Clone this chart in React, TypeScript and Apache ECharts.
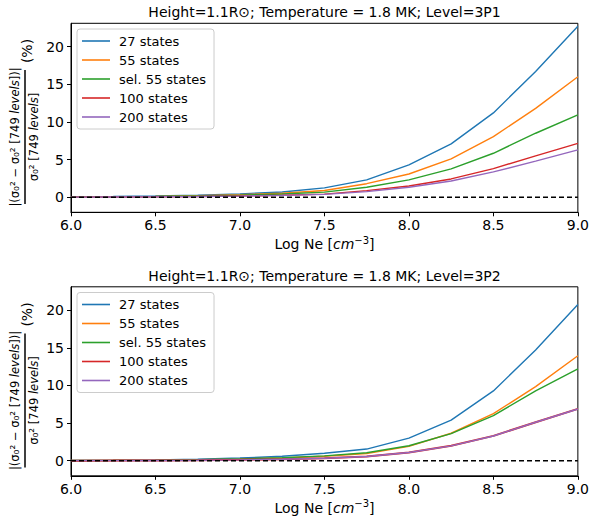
import React, { useEffect, useRef } from "react";
import * as echarts from "echarts";

const logNe = [6.0, 6.25, 6.5, 6.75, 7.0, 7.25, 7.5, 7.75, 8.0, 8.25, 8.5, 8.75, 9.0];
const seriesNames = ["27 states", "55 states", "sel. 55 states", "100 states", "200 states"];
const colors = ["#1f77b4", "#ff7f0e", "#2ca02c", "#d62728", "#9467bd"];

const p1_27 = [0.06, 0.1, 0.17, 0.28, 0.45, 0.7, 1.25, 2.3, 4.29, 7.08, 11.2, 16.7, 22.7];
const p1_55 = [0.04, 0.07, 0.12, 0.2, 0.33, 0.53, 0.9, 1.8, 3.09, 5.09, 8.05, 11.8, 16.0];
const p1_sel55 = [0.03, 0.06, 0.1, 0.17, 0.28, 0.44, 0.68, 1.33, 2.3, 3.76, 5.84, 8.5, 10.95];
const p1_100 = [0.02, 0.03, 0.06, 0.1, 0.17, 0.27, 0.42, 0.88, 1.5, 2.43, 3.8, 5.5, 7.15];
const p1_200 = [0.02, 0.03, 0.05, 0.09, 0.15, 0.25, 0.38, 0.75, 1.33, 2.16, 3.36, 4.8, 6.3];

const p2_27 = [0.04, 0.07, 0.12, 0.21, 0.36, 0.6, 1.0, 1.55, 3.0, 5.39, 9.27, 14.7, 20.75];
const p2_55 = [0.02, 0.04, 0.08, 0.13, 0.22, 0.37, 0.6, 0.97, 1.9, 3.65, 6.25, 9.85, 13.95];
const p2_sel55 = [0.03, 0.05, 0.08, 0.14, 0.24, 0.4, 0.65, 1.06, 1.99, 3.6, 6.0, 9.27, 12.19];
const p2_100 = [0.01, 0.02, 0.04, 0.07, 0.12, 0.2, 0.33, 0.57, 1.1, 1.99, 3.3, 5.12, 6.89];
const p2_200 = [0.01, 0.02, 0.04, 0.07, 0.12, 0.2, 0.33, 0.56, 1.09, 1.98, 3.29, 5.11, 6.87];

const yTicks = [0, 5, 10, 15, 20];
const titles = [
  "Height=1.1R\u2299; Temperature = 1.8 MK; Level=3P1",
  "Height=1.1R\u2299; Temperature = 1.8 MK; Level=3P2",
];

const FONT = "DejaVu Sans";

export default function App() {
  const ref = useRef<HTMLDivElement>(null);
  useEffect(() => {
    if (!ref.current) return;
    const chart = echarts.init(ref.current, null, { renderer: "svg" });
    const panels = [
      [p1_27, p1_55, p1_sel55, p1_100, p1_200],
      [p2_27, p2_55, p2_sel55, p2_100, p2_200],
    ];
    const offsets = [0, 263.5];
    const grids: any[] = [];
    const xAxes: any[] = [];
    const yAxes: any[] = [];
    const series: any[] = [];
    const legends: any[] = [];
    const graphics: any[] = [];

    panels.forEach((panel, gi) => {
      const off = offsets[gi];
      grids.push({
        left: 71,
        top: 23.3 + off,
        width: 507,
        height: 189,
        show: true,
        borderColor: "#000",
        borderWidth: 1,
        backgroundColor: "transparent",
      });
      xAxes.push({
        type: "value",
        gridIndex: gi,
        min: 6,
        max: 9,
        interval: 0.5,
        axisLine: { show: true, onZero: false, lineStyle: { color: "#000", width: 1 } },
        axisTick: { show: true, length: 4, lineStyle: { color: "#000" } },
        axisLabel: {
          show: true,
          fontFamily: FONT,
          fontSize: 14,
          color: "#000",
          margin: 6,
          formatter: (v: number) => v.toFixed(1),
        },
        splitLine: { show: false },
      });
      yAxes.push({
        type: "value",
        gridIndex: gi,
        min: -2,
        max: 23.1,
        axisLine: { show: true, onZero: false, lineStyle: { color: "#000", width: 1 } },
        axisTick: { show: true, length: 4, customValues: yTicks, lineStyle: { color: "#000" } },
        axisLabel: {
          show: true,
          fontFamily: FONT,
          fontSize: 14,
          color: "#000",
          margin: 7,
          customValues: yTicks,
        },
        splitLine: { show: false },
      });
      panel.forEach((vals, si) => {
        series.push({
          type: "line",
          name: seriesNames[si],
          xAxisIndex: gi,
          yAxisIndex: gi,
          data: logNe.map((x, i) => [x, vals[i]]),
          showSymbol: false,
          symbol: "none",
          color: colors[si],
          itemStyle: { color: colors[si] },
          lineStyle: { color: colors[si], width: gi === 1 && si === 3 ? 2 : 1.4 },
          z: 2 + si,
        });
      });
      series.push({
        type: "line",
        name: "zero",
        xAxisIndex: gi,
        yAxisIndex: gi,
        data: [
          [6, 0],
          [9, 0],
        ],
        showSymbol: false,
        symbol: "none",
        lineStyle: { color: "#000", width: 1.3, type: [5, 3] },
        z: 10,
      });
      legends.push({
        show: true,
        data: seriesNames.map((n, si) => ({
          name: n,
          icon: "rect",
          itemStyle: { color: colors[si] },
        })),
        orient: "vertical",
        left: 77,
        top: 29 + off,
        padding: [5, 8, 5, 5],
        itemGap: 5,
        itemWidth: 28,
        itemHeight: 1.6,
        borderColor: "#cccccc",
        borderWidth: 1,
        borderRadius: 3,
        backgroundColor: "rgba(255,255,255,0.8)",
        selectedMode: false,
        textStyle: {
          fontFamily: FONT,
          fontSize: 13,
          color: "#000",
          lineHeight: 14,
          padding: [0, 0, 0, 4],
        },
      });
      graphics.push({
        type: "text",
        x: 324.5,
        y: 12 + off,
        style: {
          text: titles[gi],
          fontFamily: FONT,
          fontSize: 14,
          fill: "#000",
          align: "center",
          verticalAlign: "middle",
        },
      });
      graphics.push({
        type: "text",
        x: 324.5,
        y: 244 + off,
        style: {
          text: "{a|Log Ne [}{i|cm}{s|\u22123}{a|]}",
          align: "center",
          verticalAlign: "middle",
          fill: "#000",
          rich: {
            a: { fontFamily: FONT, fontSize: 14, fill: "#000" },
            i: { fontFamily: FONT, fontSize: 14, fontStyle: "italic", fill: "#000" },
            s: { fontFamily: FONT, fontSize: 10, fill: "#000", padding: [0, 0, 8, 0] },
          },
        },
      });
      graphics.push({
        type: "group",
        x: 25,
        y: 137 + off,
        rotation: Math.PI / 2,
        children: [
          {
            type: "text",
            x: 0,
            y: -10,
            style: {
              text: "{a||(\u03c3}{s|\u2080\u00b2}{a| \u2212 \u03c3}{s|\u2080\u00b2}{a| [749 }{i|levels}{a|])|}",
              align: "center",
              verticalAlign: "middle",
              rich: {
                a: { fontFamily: FONT, fontSize: 11.5, fill: "#000" },
                s: { fontFamily: FONT, fontSize: 12, fill: "#000" },
                i: { fontFamily: FONT, fontSize: 11.5, fontStyle: "italic", fill: "#000" },
              },
            },
          },
          {
            type: "line",
            shape: { x1: -67, y1: 0, x2: 67, y2: 0 },
            style: { stroke: "#000", lineWidth: 1.5 },
          },
          {
            type: "text",
            x: 0,
            y: 9,
            style: {
              text: "{a|\u03c3}{s|\u2080\u00b2}{a| [749 }{i|levels}{a|]}",
              align: "center",
              verticalAlign: "middle",
              rich: {
                a: { fontFamily: FONT, fontSize: 11.5, fill: "#000" },
                s: { fontFamily: FONT, fontSize: 12, fill: "#000" },
                i: { fontFamily: FONT, fontSize: 11.5, fontStyle: "italic", fill: "#000" },
              },
            },
          },
          {
            type: "text",
            x: 86,
            y: 2,
            style: {
              text: "(%)",
              align: "center",
              verticalAlign: "middle",
              fontFamily: FONT,
              fontSize: 14,
              fill: "#000",
            },
          },
        ],
      });
    });

    chart.setOption({
      animation: false,
      backgroundColor: "#fff",
      grid: grids,
      xAxis: xAxes,
      yAxis: yAxes,
      series,
      legend: legends,
      graphic: graphics,
    });
    return () => chart.dispose();
  }, []);
  return (
    <div
      ref={ref}
      style={{ position: "fixed", left: 0, top: 0, width: 592, height: 526 }}
    />
  );
}
